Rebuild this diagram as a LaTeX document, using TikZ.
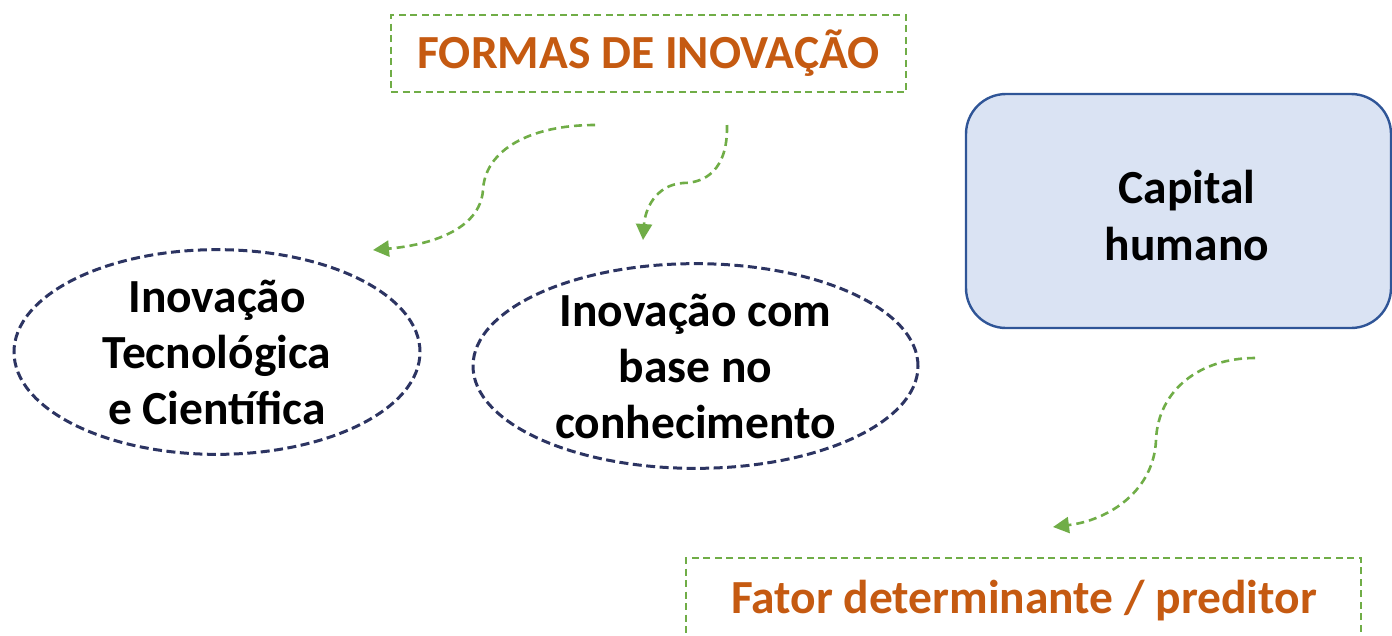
\documentclass[tikz,border=0pt]{standalone}
\usepackage{fontspec}
\setmainfont{Carlito}
\usetikzlibrary{arrows.meta,shapes.geometric}
\definecolor{grn}{RGB}{112,173,71}
\definecolor{org}{RGB}{197,90,17}
\definecolor{navy}{RGB}{44,52,98}
\definecolor{bfill}{RGB}{218,227,243}
\definecolor{bdraw}{RGB}{47,85,151}
\tikzset{
  titlebox/.style={draw=grn, line width=2pt, dash pattern=on 7pt off 4.5pt, inner sep=0pt, font=\fontsize{47.5}{56}\selectfont\bfseries, text=org},
  ell/.style={ellipse, draw=navy, line width=3pt, dash pattern=on 9pt off 4.5pt, inner sep=0pt, align=center, font=\fontsize{47.5}{56}\selectfont\bfseries},
  capbox/.style={draw=bdraw, fill=bfill, line width=2.4pt, rounded corners=40pt, inner sep=0pt},
  captext/.style={align=center, font=\fontsize{47.5}{57}\selectfont\bfseries},
  flow/.style={draw=grn, line width=2.6pt, dash pattern=on 8pt off 5pt, -{Triangle[length=16pt,width=16pt]}}
}
\begin{document}
\begin{tikzpicture}[x=1pt,y=-1pt]
\useasboundingbox (0,0) rectangle (1392,635);
\clip (0,0) rectangle (1392,635);
\node[titlebox, minimum width=515pt, minimum height=77pt] (forms) at (648.5,53.5) {FORMAS DE INOVAÇÃO};
\node[ell, minimum width=406pt, minimum height=203pt] (tec) at (217,352) {Inovação\\Tecnológica\\e Científica};
\node[ell, minimum width=445pt, minimum height=192pt] (base) at (695.5,366) {Inovação com\\base no\\conhecimento};
\node[capbox, minimum width=425pt, minimum height=234pt] (cap) at (1178.5,211) {};
\node[captext] (captxt) at (1187,216) {Capital\\humano};
\node[titlebox, minimum width=675pt, minimum height=100pt] (fator) at (1023.5,608) {};
\node[titlebox, draw=none] (fatortxt) at (1024,601) {Fator determinante / preditor};
\coordinate (a1s) at (595,125);
\coordinate (a1e) at (373,250);
\coordinate (a2s) at (727,125);
\coordinate (a2e) at (643,240);
\coordinate (a3s) at (1255,358);
\coordinate (a3e) at (1053,527);
\draw[flow] (a1s) .. controls (530,125) and (485,150) .. (483,190) .. controls (480,230) and (430,245) .. (a1e);
\draw[flow] (a2s) .. controls (728,170) and (705,183) .. (683,183) .. controls (655,185) and (645,210) .. (a2e);
\draw[flow] (a3s) .. controls (1200,358) and (1158,390) .. (1156,440) .. controls (1154,490) and (1110,520) .. (a3e);
\end{tikzpicture}
\end{document}
